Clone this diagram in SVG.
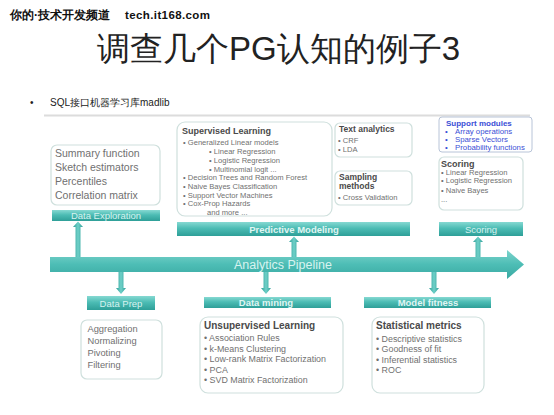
<svg xmlns="http://www.w3.org/2000/svg" width="554" height="415" viewBox="0 0 554 415">
<defs>
<linearGradient id="bar" x1="0" y1="0" x2="0" y2="1">
<stop offset="0" stop-color="#86d9d2"/>
<stop offset="0.45" stop-color="#4cbcb4"/>
<stop offset="1" stop-color="#2e9f98"/>
</linearGradient>
<linearGradient id="pipe" x1="0" y1="0" x2="0" y2="1">
<stop offset="0" stop-color="#7ed4cd"/>
<stop offset="0.5" stop-color="#4dbdb5"/>
<stop offset="1" stop-color="#3aa9a2"/>
</linearGradient>
<linearGradient id="shaft" x1="0" y1="0" x2="1" y2="0">
<stop offset="0" stop-color="#2e9f98"/>
<stop offset="0.5" stop-color="#6fd0c8"/>
<stop offset="1" stop-color="#2e9f98"/>
</linearGradient>
</defs>
<style>
text{font-family:"Liberation Sans",Arial,sans-serif}
.box{fill:#fff;stroke:#cfe0dd;stroke-width:1.2}
.bar{fill:url(#bar)}
.bl{fill:#d6f2ef;font-size:9.5px;text-anchor:middle}
.blb{fill:#e0f6f3;font-size:9.5px;font-weight:bold;text-anchor:middle}
.t{fill:#4a4a4a;font-weight:bold}
.li{fill:#707070}
.blue{fill:#3b4fd6}
.arr{fill:url(#shaft)}
</style>
<rect width="554" height="415" fill="#fff"/>
<g id="watermark">
<text x="10" y="19" font-family="'Noto Sans CJK SC',sans-serif" font-size="12" font-weight="bold" fill="#111" stroke="#fff" stroke-width="0.6" paint-order="stroke">你的·技术开发频道</text>
<text x="125" y="19" font-family="'Liberation Mono','DejaVu Sans Mono',monospace" font-size="11.5" font-weight="bold" fill="#111" textLength="85">tech.it168.com</text>
</g>
<text x="97" y="60" font-family="'Noto Sans CJK SC',sans-serif" font-size="33" fill="#222">调查几个PG认知的例子3</text>
<text x="30" y="106" font-size="10" fill="#222">•</text>
<text x="50" y="106" font-family="'Liberation Sans','Noto Sans CJK SC',sans-serif" font-size="10" fill="#222">SQL接口机器学习库madlib</text>
<line x1="44" y1="115.5" x2="530" y2="115.5" stroke="#dcdcdc" stroke-width="2"/>

<g id="connectors">
<path id="pipeline" d="M50,257 L507,257 L507,250 L524,264.5 L507,279 L507,272 L50,272 Z" fill="url(#pipe)"/>
<text x="283" y="269" font-size="12.5" fill="#d8f3f0" text-anchor="middle">Analytics Pipeline</text>
<path class="arr" d="M75.5,257 V227 H73 L78,221.5 L83,227 H80.5 V257 Z"/>
<path class="arr" d="M291.5,257 V242 H289 L294,236.5 L299,242 H296.5 V257 Z"/>
<path class="arr" d="M475.5,257 V242 H473 L478,236.5 L483,242 H480.5 V257 Z"/>
<path class="arr" d="M118.5,272 V288 H116 L121,294 L126,288 H123.5 V272 Z"/>
<path class="arr" d="M263.5,272 V288 H261 L266,294 L271,288 H268.5 V272 Z"/>
<path class="arr" d="M431.5,272 V288 H429 L434,294 L439,288 H436.5 V272 Z"/>
</g>

<g id="summary">
<rect class="box" x="51" y="145" width="109" height="60" rx="6"/>
<g class="li" font-size="10.5">
<text x="55" y="157">Summary function</text>
<text x="55" y="171">Sketch estimators</text>
<text x="55" y="185">Percentiles</text>
<text x="55" y="199">Correlation matrix</text>
</g>
</g>
<g id="data-exploration">
<rect class="bar" x="52" y="210" width="108" height="11"/>
<text class="bl" x="106" y="219">Data Exploration</text>
</g>

<g id="supervised">
<rect class="box" x="177" y="122" width="155" height="94" rx="8"/>
<text class="t" x="182" y="134" font-size="9">Supervised Learning</text>
<g class="li" font-size="7.6">
<text x="183" y="145">• Generalized Linear models</text>
<text x="209" y="154">• Linear Regression</text>
<text x="209" y="163">• Logistic Regression</text>
<text x="209" y="171.5">• Multinomial logit ...</text>
<text x="183" y="180">• Decision Trees and Random Forest</text>
<text x="183" y="189">• Naive Bayes Classification</text>
<text x="183" y="197.5">• Support Vector Machines</text>
<text x="183" y="206">• Cox-Prop Hazards</text>
<text x="207" y="215">and more ...</text>
</g>
</g>
<g id="predictive-modeling">
<rect class="bar" x="177" y="222" width="233" height="14"/>
<text class="blb" x="294" y="232.5">Predictive Modeling</text>
</g>

<g id="text-analytics">
<rect class="box" x="335" y="123" width="77" height="34" rx="5"/>
<text class="t" x="339" y="131.5" font-size="8.5">Text analytics</text>
<g class="li" font-size="7.6">
<text x="338" y="142.5">• CRF</text>
<text x="338" y="151.5">• LDA</text>
</g>
</g>

<g id="sampling">
<rect class="box" x="335" y="171" width="77" height="34" rx="5"/>
<text class="t" x="339" y="179.5" font-size="8.5">Sampling</text>
<text class="t" x="339" y="188.5" font-size="8.5">methods</text>
<text class="li" x="338" y="199.5" font-size="7.6">• Cross Validation</text>
</g>

<g id="support-modules">
<rect x="439" y="117" width="93" height="35" rx="3" fill="#fff" stroke="#b8c4d8" stroke-width="1"/>
<text x="446" y="125.5" font-size="8" font-weight="bold" fill="#3b4fd6">Support modules</text>
<g class="blue" font-size="7.8">
<text x="445" y="133.5">•</text><text x="455" y="133.5">Array operations</text>
<text x="445" y="141.5">•</text><text x="455" y="141.5">Sparse Vectors</text>
<text x="445" y="150">•</text><text x="455" y="150">Probability functions</text>
</g>
</g>

<g id="scoring-box">
<rect class="box" x="439" y="157" width="84" height="53" rx="5"/>
<text class="t" x="441" y="167" font-size="9">Scoring</text>
<g class="li" font-size="7.6">
<text x="441" y="174.5">• Linear Regression</text>
<text x="441" y="183">• Logistic Regression</text>
<text x="441" y="192.5">• Naive Bayes</text>
<text x="441" y="202">...</text>
</g>
</g>
<g id="scoring">
<rect class="bar" x="439" y="222" width="84" height="14"/>
<text class="bl" x="481" y="232.5">Scoring</text>
</g>

<g id="data-prep">
<rect class="bar" x="87" y="296" width="68" height="14"/>
<text class="bl" x="121" y="306.5">Data Prep</text>
</g>
<g id="data-prep-box">
<rect class="box" x="81" y="320" width="81" height="59" rx="6"/>
<g class="li" font-size="9.3">
<text x="87.5" y="331.5">Aggregation</text>
<text x="87.5" y="343.5">Normalizing</text>
<text x="87.5" y="356">Pivoting</text>
<text x="87.5" y="368">Filtering</text>
</g>
</g>

<g id="data-mining">
<rect class="bar" x="204" y="297" width="127" height="11"/>
<text class="blb" x="266" y="305.5">Data mining</text>
</g>
<g id="unsupervised">
<rect class="box" x="200" y="317" width="143" height="76" rx="8"/>
<text class="t" x="204" y="329" font-size="10">Unsupervised Learning</text>
<g class="li" font-size="8.9">
<text x="204" y="341">• Association Rules</text>
<text x="204" y="351.5">• k-Means Clustering</text>
<text x="204" y="362">• Low-rank Matrix Factorization</text>
<text x="204" y="372.5">• PCA</text>
<text x="204" y="383">• SVD Matrix Factorization</text>
</g>
</g>

<g id="model-fitness">
<rect class="bar" x="364" y="297" width="127" height="11"/>
<text class="blb" x="428" y="305.5">Model fitness</text>
</g>
<g id="statistical">
<rect class="box" x="372" y="317" width="112" height="76" rx="8"/>
<text class="t" x="376" y="329" font-size="10">Statistical metrics</text>
<g class="li" font-size="8.9">
<text x="376" y="341.5">• Descriptive statistics</text>
<text x="376" y="352">• Goodness of fit</text>
<text x="376" y="362.5">• Inferential statistics</text>
<text x="376" y="372.5">• ROC</text>
</g>
</g>
</svg>
